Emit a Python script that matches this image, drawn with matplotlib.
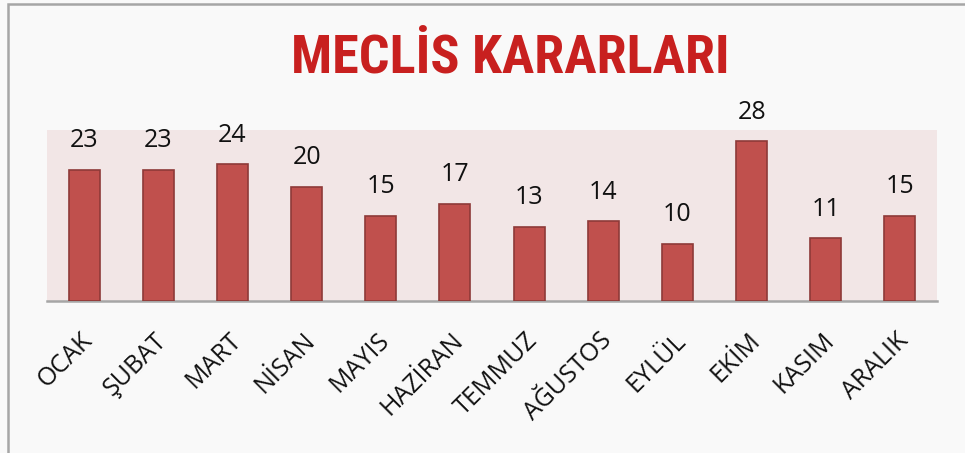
#!/usr/bin/env python3
"""
Meclis kararlari - aylik bar chart.
"""
import matplotlib
matplotlib.use("Agg")
from matplotlib import pyplot as plt
from matplotlib import font_manager
from matplotlib.patches import Rectangle
from matplotlib.transforms import ScaledTranslation

###
months = ["OCAK", "ŞUBAT", "MART", "NİSAN", "MAYIS", "HAZİRAN",
          "TEMMUZ", "AĞUSTOS", "EYLÜL", "EKİM", "KASIM", "ARALIK"]
counts = [23, 23, 24, 20, 15, 17, 13, 14, 10, 28, 11, 15]
title = "MECLİS KARARLARI"

###
def pick_font(names):
    "Return first installed family from names."
    for n in names:
        try:
            font_manager.findfont(n, fallback_to_default=False)
            return n
        except Exception:
            pass
    return "DejaVu Sans"

body_font = pick_font(["Open Sans", "Noto Sans", "DejaVu Sans"])
title_font = pick_font(["Liberation Sans Narrow", "Roboto Condensed", "Roboto", "DejaVu Sans"])

W, H = 965, 453
fig = plt.figure(figsize=(W/100, H/100), dpi=100)
fig.patch.set_facecolor("#f9f9f9")

# frame line (top + left)
fig.add_artist(Rectangle((8/W, -0.1), 1.2, (H-4)/H + 0.1, transform=fig.transFigure,
                         fill=False, edgecolor="#a6a6a6", lw=1.8))

ax = fig.add_axes([47/W, (H-301)/H, (937-47)/W, (301-130)/H])
ax.set_facecolor("#f2e6e6")
x = list(range(len(months)))
bars = ax.bar(x, counts, width=0.42, color="#c0504d", edgecolor="#8e3a38", lw=1.2, zorder=3)
ax.set_xlim(-0.5, len(months) - 0.5)
ax.set_ylim(0, 30)
for s in ["top", "right", "left"]:
    ax.spines[s].set_visible(False)
ax.spines["bottom"].set_color("#a6a6a6")
ax.spines["bottom"].set_linewidth(1.8)
ax.set_yticks([])
ax.tick_params(axis="x", length=0, pad=0)
ax.set_xticks(x)
ax.set_xticklabels(months, rotation=45, ha="right", va="top", rotation_mode="anchor",
                   fontsize=18, family=body_font, color="#111111")
off = ScaledTranslation(-4/100, -27/100, fig.dpi_scale_trans)
for lab in ax.get_xticklabels():
    lab.set_transform(lab.get_transform() + off)

for xi, v in zip(x, counts):
    ax.annotate(str(v), xy=(xi, v), xytext=(0, 12), textcoords="offset points",
                ha="center", va="bottom", fontsize=18, family=body_font, color="#111111",
                annotation_clip=False)

fig.text(510/W, 1 - 58/H, title, ha="center", va="center", fontsize=39,
         fontweight="bold", family=title_font, color="#c8201f")

fig.savefig("out.png", dpi=100, facecolor=fig.get_facecolor())
